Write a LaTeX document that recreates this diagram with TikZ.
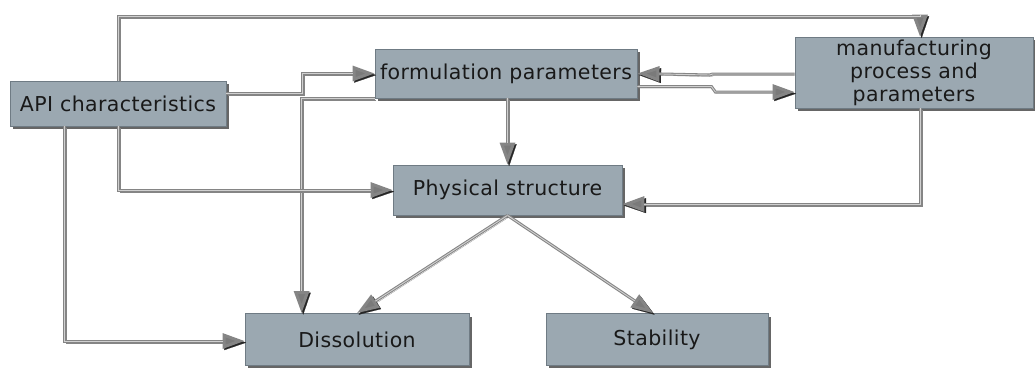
\documentclass[tikz,border=0pt]{standalone}
\usepackage{fontspec}
\newfontfamily\boxfont[LetterSpace=2]{DejaVu Sans}
\usetikzlibrary{arrows.meta,shadows,calc}
\definecolor{boxfill}{HTML}{9BA8B1}
\definecolor{boxline}{HTML}{6F7B84}
\definecolor{linkgray}{HTML}{858585}
\definecolor{linkcore}{HTML}{D0D0D0}
\definecolor{tipgray}{HTML}{7A7A7A}
\tikzset{
  block/.style={rectangle, draw=boxline, line width=0.8pt, fill=boxfill,
    text=black!90, font=\boxfont\fontsize{20.5}{23}\selectfont, align=center,
    inner sep=0pt,
    drop shadow={shadow xshift=3pt, shadow yshift=-3pt, fill=black, opacity=0.6}},
  link/.style={draw=linkgray, line width=3pt,
    preaction={draw=linkgray, line width=0.2pt,
      transform canvas={xshift=1.6pt,yshift=-1.6pt},
      -{Triangle[length=22pt,width=15pt,color=black!85,fill=black!85]}},
    -{Triangle[length=22pt,width=15pt,fill=tipgray]},
    postaction={draw=linkcore, line width=0.9pt, -, shorten >=22pt}},
}
\begin{document}
\begin{tikzpicture}[x=1pt,y=-1pt]
\useasboundingbox (0,0) rectangle (1035,367);

% boxes
\node[block, minimum width=216pt, minimum height=45pt] (api) at (118,103.5) {API characteristics};
\node[block, minimum width=262pt, minimum height=49pt] (form) at (506,73.5) {formulation parameters};
\node[block, minimum width=238pt, minimum height=71pt] (manu) at (914,72.5) {manufacturing\\process and\\parameters};
\node[block, minimum width=229pt, minimum height=50pt] (phys) at (507.5,190) {Physical structure};
\node[block, minimum width=224pt, minimum height=52pt] (diss) at (357,339.5) {Dissolution};
\node[block, minimum width=222pt, minimum height=52pt] (stab) at (657,339.5) {Stability};

\coordinate (topline) at (0,16);

% connectors
\draw[link] (api.north) |- ([xshift=6pt]topline -| manu.north) -- ([xshift=6pt]manu.north);
\draw[link] ([yshift=10.5pt]api.east) -- ++(76,0) |- (form.west);
\draw[link] (form.south west) -| ([xshift=57pt]diss.north west);
\draw[link] (api.south) |- (phys.west);
\draw[link] ([xshift=55pt]api.south west) |- ([yshift=-1.5pt]diss.west);
\draw[link] (form.south -| phys.north) -- (phys.north);
\draw[link] ([xshift=6pt]manu.south) |- ([yshift=-14pt]phys.east);
\draw[link] ([yshift=-1.5pt]manu.west) -- ++(-82,0) -- ++(-3,1) -- (form.east);
\draw[link] ([yshift=-13pt]form.east) -- ++(74,0) -- ++(4,5.5) -- ([yshift=-19.5pt]manu.west);
\draw[link] (phys.south) -- (diss.north);
\draw[link] (phys.south) -- ([xshift=-4pt]stab.north);
\end{tikzpicture}
\end{document}
